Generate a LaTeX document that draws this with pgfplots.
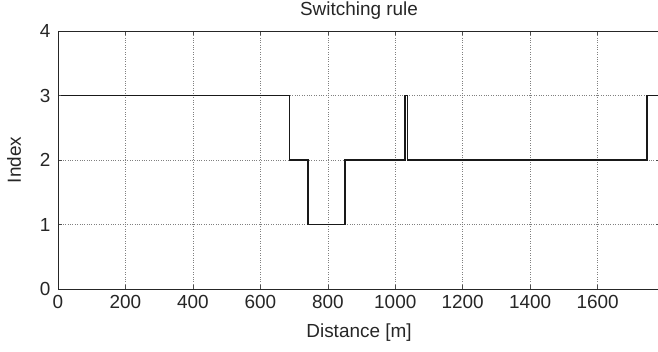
\documentclass[border=0pt]{standalone}
\usepackage{pgfplots}
\pgfplotsset{compat=1.18}
\usepackage{fontspec}
\setmainfont{Liberation Sans}
\begin{document}
\begin{tikzpicture}
\path[use as bounding box] (-58bp,-63bp) rectangle (600bp,289bp);
\begin{axis}[
  at={(0,0)}, anchor=south west,
  scale only axis, width=602bp, height=258bp,
  xmin=0, xmax=1785, ymin=0, ymax=4,
  xtick={0,200,...,1600}, ytick={0,1,2,3,4},
  grid=major, grid style={black!50, dotted, line width=0.6pt},
  tick align=inside, major tick length=4bp,
  tick style={black!70, line width=0.5pt},
  axis line style={line width=0.8pt, black!85},
  /pgf/number format/assume math mode=true,
  /pgf/number format/1000 sep={},
  tick label style={font=\fontsize{19}{22}\selectfont, text=black!85},
  label style={font=\fontsize{19}{22}\selectfont, text=black!85},
  every axis title shift=0pt,
  title style={font=\fontsize{19}{22}\selectfont, text=black!85, at={(axis description cs:0.5,1.078)}, anchor=center},
  title={Switching rule},
  xlabel={Distance [m]}, ylabel={Index},
  xticklabel style={yshift=-3bp},
  yticklabel style={xshift=-4bp},
  xlabel style={at={(axis description cs:0.5,-0.1705)}, anchor=center},
  ylabel style={at={(axis description cs:-0.073,0.5)}, anchor=center},
]
\addplot[black!90, line width=1.6pt] coordinates {
(10,3) (687,3) (687,2) (742,2) (742,1) (851,1) (851,2) (1029,2) (1029,3) (1036,3) (1036,2) (1746,2) (1746,3) (1785,3)
};
\end{axis}
\end{tikzpicture}
\end{document}
